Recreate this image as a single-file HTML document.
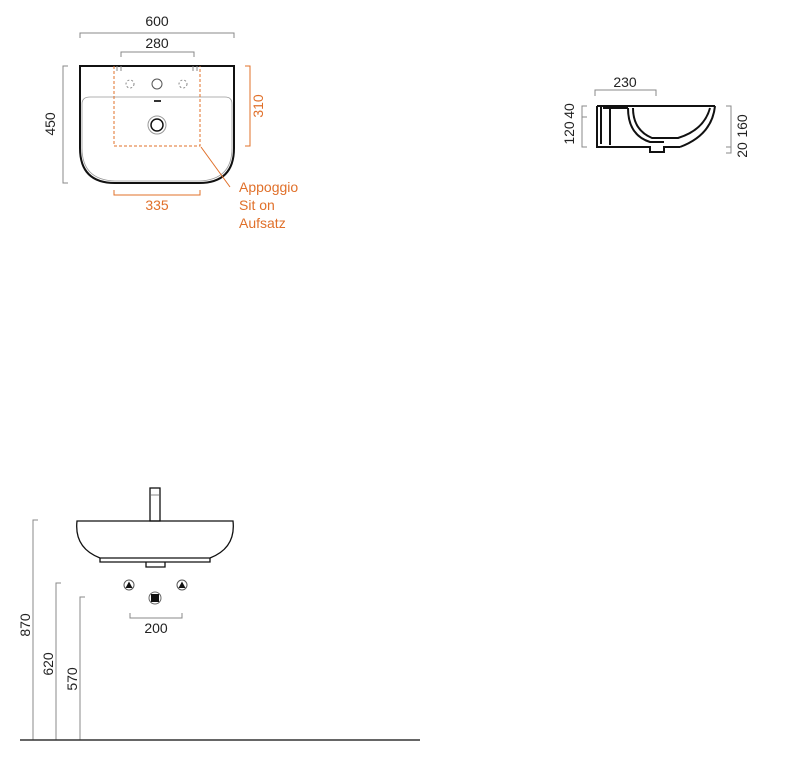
<!DOCTYPE html>
<html><head><meta charset="utf-8"><style>
html,body{margin:0;padding:0;background:#fff;}
svg{display:block;}
text{font-family:"Liberation Sans",sans-serif;font-size:14px;}
</style></head><body>
<svg width="800" height="774" viewBox="0 0 800 774" xmlns="http://www.w3.org/2000/svg">
<g fill="none" stroke="#888" stroke-width="1">
<path d="M80,38V33H234V38"/>
<path d="M121,57V52H194V57"/>
<path d="M68,66H63V183H68"/>
<path d="M595,96V90H656V96"/>
<path d="M587,106H582V147H587M582,117H587"/>
<path d="M726,106H731V153H726M731,147H726"/>
<path d="M38,520H33V740"/>
<path d="M61,583H56V740"/>
<path d="M85,597H80V740"/>
<path d="M130,613V618H182V613"/>
</g>
<line x1="20" y1="740" x2="420" y2="740" stroke="#333" stroke-width="1.5"/>
<g fill="#222">
<text x="157" y="26" text-anchor="middle">600</text>
<text x="157" y="48" text-anchor="middle">280</text>
<text transform="translate(55,124) rotate(-90)" text-anchor="middle">450</text>
<text x="625" y="87" text-anchor="middle">230</text>
<text transform="translate(574,111) rotate(-90)" text-anchor="middle">40</text>
<text transform="translate(574,133) rotate(-90)" text-anchor="middle">120</text>
<text transform="translate(747,126) rotate(-90)" text-anchor="middle">160</text>
<text transform="translate(747,150) rotate(-90)" text-anchor="middle">20</text>
<text x="156" y="633" text-anchor="middle">200</text>
<text transform="translate(30,625) rotate(-90)" text-anchor="middle">870</text>
<text transform="translate(53,664) rotate(-90)" text-anchor="middle">620</text>
<text transform="translate(77,679) rotate(-90)" text-anchor="middle">570</text>
</g>
<g fill="#e0702a">
<text transform="translate(263,106) rotate(-90)" text-anchor="middle">310</text>
<text x="157" y="210" text-anchor="middle">335</text>
<text x="239" y="192">Appoggio</text>
<text x="239" y="210">Sit on</text>
<text x="239" y="228">Aufsatz</text>
</g>
<path d="M80,66H234V148Q234,183 199,183H115Q80,183 80,148Z" fill="none" stroke="#111" stroke-width="2"/>
<path d="M82,104Q82,97 90,97H225Q232,97 232,104V148Q232,180 199,181H115Q82,180 82,148Z" fill="none" stroke="#999" stroke-width="0.8"/>
<path d="M117,66V71M121,66V71M193,66V71M197,66V71" stroke="#888"/>
<circle cx="130" cy="84" r="4" fill="none" stroke="#888" stroke-dasharray="2,2"/>
<circle cx="183" cy="84" r="4" fill="none" stroke="#888" stroke-dasharray="2,2"/>
<circle cx="157" cy="84" r="5" fill="none" stroke="#555"/>
<rect x="154" y="100" width="7" height="2" fill="#333"/>
<circle cx="157" cy="125" r="9" fill="none" stroke="#999"/>
<circle cx="157" cy="125" r="6" fill="none" stroke="#111" stroke-width="1.5"/>
<g fill="none" stroke="#e0702a" stroke-width="1">
<path d="M114,66V146H200V66" stroke-dasharray="3,2"/>
<path d="M245,66H250V146H245"/>
<path d="M114,190V195H200V190"/>
<path d="M201,147L230,187"/>
</g>
<g fill="none" stroke="#111" stroke-width="2">
<path d="M597,106H715"/>
<path d="M597,106V147H650V152H664V147H680"/>
<path d="M601,106V144M610,108V145"/>
<path d="M603,108H628"/>
<path d="M628,108Q628,135 650,142H664"/>
<path d="M633,108Q633,130 652,138H678Q704,130 710,108"/>
<path d="M715,106Q712,135 680,147"/>
</g>
<g fill="none" stroke="#111" stroke-width="1.3">
<rect x="150" y="488" width="10" height="33"/>
<path d="M77,521H233Q236,548 210,558H100Q74,548 77,521Z"/>
<path d="M100,558V562H210V558"/>
<path d="M146,562V567H165V562"/>
</g>
<line x1="151" y1="495" x2="159" y2="495" stroke="#888"/>
<g>
<circle cx="129" cy="585" r="5" fill="#fff" stroke="#555"/>
<path d="M125.5,588L129,581.5L132.5,588Z" fill="#111"/>
<circle cx="182" cy="585" r="5" fill="#fff" stroke="#555"/>
<path d="M178.5,588L182,581.5L185.5,588Z" fill="#111"/>
<circle cx="155" cy="598" r="6" fill="#fff" stroke="#666"/>
<rect x="151" y="594" width="8" height="8" fill="#111"/>
</g>
</svg>
</body></html>
